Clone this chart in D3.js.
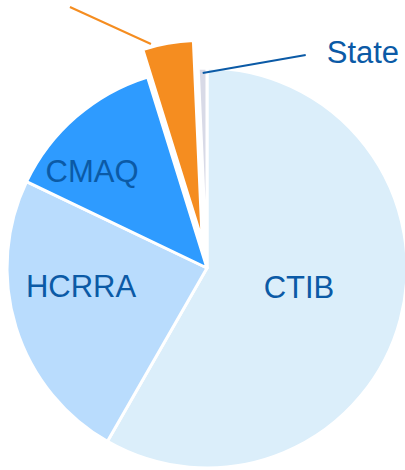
<!DOCTYPE html>
<html>
<head>
<meta charset="utf-8">
<script src="https://cdn.jsdelivr.net/npm/d3@7"></script>
<style>
  html, body { margin: 0; padding: 0; background: #fff; }
  svg { display: block; }
  text { font-family: "Liberation Sans", Arial, sans-serif; }
</style>
</head>
<body>
<div id="chart"></div>
<script>
const sources = ["CTIB", "HCRRA", "CMAQ", "Other", "State"]
const shares = [58.3, 23.8, 13.1, 4.1, 0.7]
const sliceColors = ["#dbeefa", "#b9dcfd", "#2e9bff", "#f58d20", "#d8dae7"]

const width = 405, height = 470
const cx = 207, cy = 268, radius = 200

const data = sources.map((s, i) => ({ name: s, value: shares[i], color: sliceColors[i] }))

const svg = d3.select("#chart").append("svg")
    .attr("width", width)
    .attr("height", height)

const g = svg.append("g").attr("transform", `translate(${cx},${cy})`)

const pie = d3.pie().sort(null).value(d => d.value)
const arc = d3.arc().innerRadius(0).outerRadius(radius)
const arcs = pie(data)

// how far each slice is pulled out
const explode = { Other: 28 }

function offsetOf(d) {
    const off = explode[d.data.name] || 0
    const mid = (d.startAngle + d.endAngle) / 2
    return [Math.sin(mid) * off, -Math.cos(mid) * off]
}

g.selectAll("path.slice")
    .data(arcs)
    .enter()
    .append("path")
    .attr("class", "slice")
    .attr("d", arc)
    .attr("transform", d => `translate(${offsetOf(d)})`)
    .attr("fill", d => d.data.color)
    .attr("stroke", "#fff")
    .attr("stroke-width", 3)
    .attr("stroke-linejoin", "round")

// labels inside the big slices
const inner = { CTIB: [92, 30], HCRRA: [-126, 29], CMAQ: [-115, -86] }
g.selectAll("text.inner")
    .data(arcs.filter(d => inner[d.data.name]))
    .enter()
    .append("text")
    .attr("class", "inner")
    .attr("x", d => inner[d.data.name][0])
    .attr("y", d => inner[d.data.name][1])
    .attr("text-anchor", "middle")
    .attr("font-size", 31)
    .attr("fill", "#0b5aa6")
    .text(d => d.data.name)

// leader lines for the thin slices
const pt = (angle, r, off) => [Math.sin(angle) * r + off[0], -Math.cos(angle) * r + off[1]]

const other = arcs[3]
const oStart = pt(other.startAngle + (other.endAngle - other.startAngle) * 0.18, 203, offsetOf(other))
g.append("line")
    .attr("x1", oStart[0]).attr("y1", oStart[1])
    .attr("x2", oStart[0] - 81).attr("y2", oStart[1] - 37)
    .attr("stroke", "#f58d20")
    .attr("stroke-width", 2)

const state = arcs[4]
const sStart = pt((state.startAngle + state.endAngle) / 2, 195, [0, 0])
g.append("line")
    .attr("x1", sStart[0]).attr("y1", sStart[1])
    .attr("x2", sStart[0] + 103).attr("y2", sStart[1] - 18)
    .attr("stroke", "#0b5aa6")
    .attr("stroke-width", 2)

g.append("text")
    .attr("x", sStart[0] + 124)
    .attr("y", sStart[1] - 10)
    .attr("font-size", 31)
    .attr("fill", "#0b5aa6")
    .text(state.data.name)
</script>
</body>
</html>
